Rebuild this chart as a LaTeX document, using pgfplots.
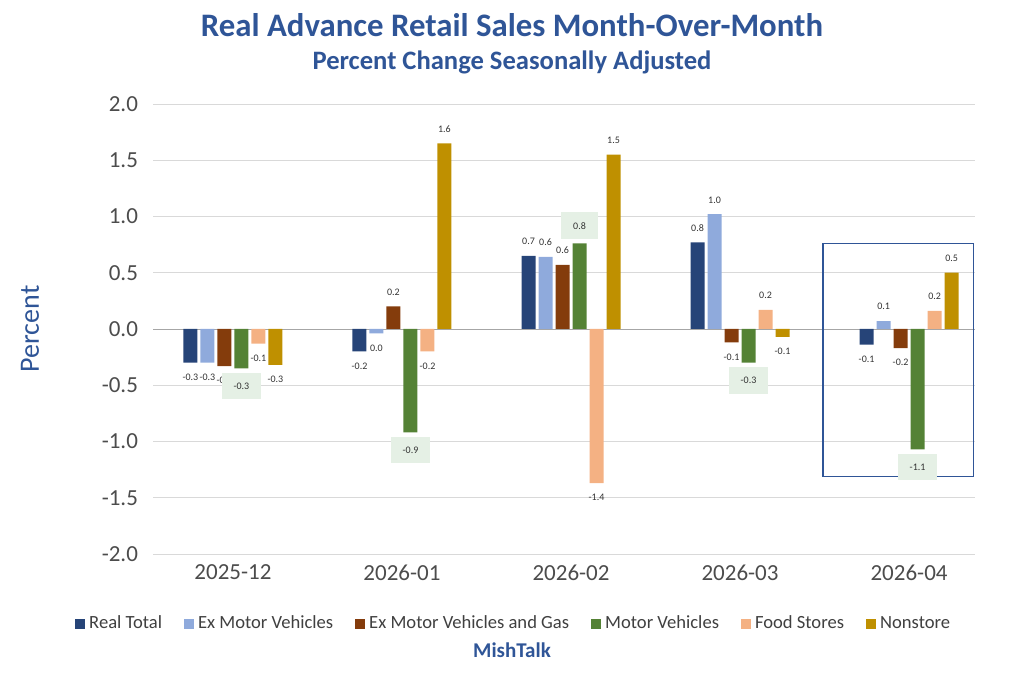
\documentclass[border=0pt]{standalone}
\usepackage{pgfplots}
\pgfplotsset{compat=1.18}
\usepackage{fontspec}
\setmainfont{Carlito}
\definecolor{c1}{HTML}{264478}
\definecolor{c2}{HTML}{8FAADC}
\definecolor{c3}{HTML}{843C0C}
\definecolor{c4}{HTML}{548235}
\definecolor{c5}{HTML}{F4B183}
\definecolor{c6}{HTML}{BF9000}
\definecolor{tb}{HTML}{2F5597}
\begin{document}
\begin{tikzpicture}
\useasboundingbox (0,0) rectangle (512pt,342pt);
\begin{axis}[
 at={(76.5pt,65pt)}, anchor=south west, scale only axis,
 width=411pt, height=225pt,
 xmin=-0.473, xmax=4.39, ymin=-2, ymax=2,
 ytick={-2,-1.5,...,2}, yticklabel style={xshift=-4pt,/pgf/number format/.cd,fixed,fixed zerofill,precision=1},
 /pgf/number format/assume math mode=true,
 xtick={0,1,2,3,4}, xticklabels={2025-12,2026-01,2026-02,2026-03,2026-04},
 ticklabel style={font=\fontsize{11.5}{13}\selectfont, text=black!70},
 xticklabel style={yshift=-2pt},
 major tick length=0pt, axis line style={draw=none},
 ymajorgrids, grid style={black!15},
 extra y ticks={0}, extra y tick labels={}, extra y tick style={grid style={black!35}},
 ybar=1.5pt, bar width=7pt,
 point meta=explicit symbolic,
 visualization depends on=rawy \as \rawy,
 nodes near coords, every node near coord/.append style={font=\fontsize{5}{6}\selectfont, text=black!80,
   anchor=\ifdim\rawy pt<0pt north\else south\fi, yshift=\ifdim\rawy pt<0pt -2pt\else 2pt\fi},
 legend style={at={(0.44,-0.155)}, anchor=center, draw=none, legend columns=6, font=\fontsize{9.3}{10}\selectfont, text=black!75, /tikz/every even column/.append style={column sep=9pt}},
 legend image code/.code={\fill[#1] (0pt,-2.5pt) rectangle (5pt,2.5pt);},
 clip=false,
]
\addplot[fill=c1,draw=none] coordinates {(0,-0.3)[-0.3] (1,-0.2)[-0.2] (2,0.65)[0.7] (3,0.77)[0.8] (4,-0.14)[-0.1]};
\addplot[fill=c2,draw=none] coordinates {(0,-0.3)[-0.3] (1,-0.04)[0.0] (2,0.64)[0.6] (3,1.02)[1.0] (4,0.07)[0.1]};
\addplot[fill=c3,draw=none] coordinates {(0,-0.33)[-0.3] (1,0.2)[0.2] (2,0.57)[0.6] (3,-0.12)[-0.1] (4,-0.17)[-0.2]};
\addplot[fill=c4,draw=none, every node near coord/.append style={fill=green!40!black!10, inner xsep=6pt, inner ysep=5pt}] coordinates {(0,-0.35)[-0.3] (1,-0.92)[-0.9] (2,0.76)[0.8] (3,-0.3)[-0.3] (4,-1.07)[-1.1]};
\addplot[fill=c5,draw=none] coordinates {(0,-0.13)[-0.1] (1,-0.2)[-0.2] (2,-1.37)[-1.4] (3,0.17)[0.2] (4,0.16)[0.2]};
\addplot[fill=c6,draw=none] coordinates {(0,-0.32)[-0.3] (1,1.65)[1.6] (2,1.55)[1.5] (3,-0.07)[-0.1] (4,0.5)[0.5]};
\legend{Real Total,Ex Motor Vehicles,Ex Motor Vehicles and Gas,Motor Vehicles,Food Stores,Nonstore}
\draw[tb, line width=0.8pt] (axis cs:3.49,0.76) rectangle (axis cs:4.38,-1.31);
\end{axis}
\node[text=tb, font=\bfseries\fontsize{16.4}{18}\selectfont] at (256pt,329.5pt) {Real Advance Retail Sales Month-Over-Month};
\node[text=tb, font=\bfseries\fontsize{13.3}{15}\selectfont] at (256pt,311pt) {Percent Change Seasonally Adjusted};
\node[text=tb, rotate=90, font=\fontsize{14}{16}\selectfont] at (15pt,177.5pt) {Percent};
\node[text=tb, font=\bfseries\fontsize{10.5}{12}\selectfont] at (256pt,17pt) {MishTalk};
\end{tikzpicture}
\end{document}
